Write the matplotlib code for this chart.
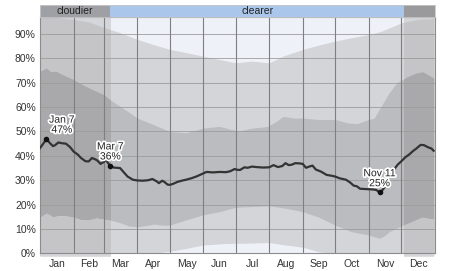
import matplotlib
matplotlib.use("Agg")
import matplotlib.pyplot as plt
import matplotlib.patheffects as pe
from matplotlib.patches import Rectangle

plt.rcParams['font.family'] = ['Liberation Sans', 'DejaVu Sans']

# ---- data (day of year, 0 = Jan 1) ----
months = ["Jan", "Feb", "Mar", "Apr", "May", "Jun", "Jul", "Aug", "Sep", "Oct", "Nov", "Dec"]
month_starts = [0, 31, 59, 90, 120, 151, 181, 212, 243, 273, 304, 334, 365]
yticks = [0, 10, 20, 30, 40, 50, 60, 70, 80, 90]

median_days = [0, 3, 6, 9, 12, 14, 17, 20, 24, 28, 31, 35, 38, 42, 45, 48, 51, 53, 56, 59,
               61, 63, 65, 68, 74, 78, 81, 86, 90, 95, 100, 104, 108, 110, 113, 115, 118, 120,
               123, 127, 131, 135, 140, 145, 150, 154, 160, 166, 172, 176, 180, 182, 185, 189,
               192, 196, 200, 206, 212, 216, 220, 224, 227, 230, 233, 236, 240, 243, 246, 249,
               252, 255, 260, 265, 270, 273, 277, 283, 287, 290, 293, 296, 300, 304, 308, 311,
               314, 316, 318, 320, 323, 326, 328, 331, 334, 338, 341, 345, 348, 352, 355, 359,
               362, 364]
median_vals = [43.2, 45.0, 47.0, 45.3, 44.0, 44.4, 45.5, 45.2, 45.0, 43.5, 41.8, 40.5, 39.1,
               37.8, 37.7, 39.1, 38.6, 38.1, 36.7, 37.5, 38.4, 37.0, 36.0, 35.2, 35.0, 33.0,
               31.5, 30.2, 29.9, 29.8, 30.0, 30.5, 29.5, 28.8, 29.8, 29.3, 28.2, 28.1, 28.5,
               29.3, 29.8, 30.2, 30.8, 31.6, 32.6, 33.4, 33.2, 33.4, 33.3, 33.7, 34.6, 34.3,
               34.2, 35.3, 35.1, 35.6, 35.4, 35.2, 35.3, 36.2, 35.4, 35.8, 37.0, 36.2, 36.4,
               37.0, 36.9, 36.7, 35.1, 35.6, 36.0, 34.4, 33.5, 32.2, 31.8, 31.5, 30.8, 30.2,
               29.0, 27.8, 27.5, 26.5, 26.4, 26.3, 26.2, 26.0, 25.0, 25.6, 26.7, 28.5, 31.5,
               33.5, 34.8, 36.5, 37.7, 39.5, 40.4, 42.0, 43.0, 44.5, 44.4, 43.5, 43.0, 42.1]

p90_days = [0, 15, 31, 45, 59, 74, 90, 105, 120, 135, 151, 170, 181, 196, 212, 225, 243, 258,
            273, 288, 304, 316, 334, 349, 364]
p90_vals = [97.0, 96.8, 96.0, 95.0, 92.7, 90.6, 87.8, 85.7, 83.7, 82.4, 80.9, 79.2, 78.2,
            78.9, 78.2, 81.0, 83.7, 85.5, 87.1, 88.5, 89.8, 91.2, 94.6, 96.0, 96.3]

p75_days = [0, 6, 10, 15, 20, 31, 38, 45, 52, 59, 65, 74, 82, 90, 105, 120, 135, 151, 166,
            178, 184, 196, 210, 218, 225, 235, 243, 258, 273, 285, 293, 304, 309, 315, 323,
            330, 340, 348, 354, 364]
p75_vals = [74.7, 76.0, 74.5, 74.7, 73.5, 71.3, 69.5, 67.9, 66.5, 65.1, 63.0, 60.3, 58.0,
            55.5, 52.8, 50.0, 49.5, 51.4, 52.1, 50.7, 50.2, 51.4, 52.0, 54.0, 56.2, 55.5,
            55.5, 54.9, 54.9, 53.5, 53.2, 54.9, 55.5, 60.0, 66.0, 70.0, 72.5, 74.0, 74.5, 72.0]

p25_days = [0, 6, 12, 18, 25, 31, 38, 45, 52, 59, 66, 74, 82, 90, 100, 105, 115, 120, 135,
            151, 166, 181, 196, 212, 227, 243, 258, 273, 288, 304, 314, 318, 323, 334, 344,
            353, 364]
p25_vals = [14.8, 16.5, 15.0, 15.5, 15.3, 14.8, 13.8, 13.7, 14.5, 14.0, 13.5, 12.6, 11.2,
            10.9, 11.5, 12.0, 11.5, 11.6, 13.7, 15.8, 17.1, 18.9, 19.2, 19.5, 18.5, 17.1,
            14.8, 11.6, 8.9, 7.5, 6.2, 7.0, 8.9, 11.2, 13.0, 14.8, 14.0]

p10_days = [0, 100, 110, 120, 135, 151, 170, 181, 196, 212, 227, 243, 258, 270, 364]
p10_vals = [0.0, 0.0, 0.3, 0.8, 2.0, 3.4, 4.0, 4.1, 4.2, 4.4, 3.4, 2.5, 0.6, 0.0, 0.0]

annotations = [(6, 47, "Jan 7\n47%"), (65, 36, "Mar 7\n36%"), (314, 25, "Nov 11\n25%")]
cloudy_spans = [(0, 65), (337, 365)]
clear_span = (65, 337)

# ---- figure ----
W, H = 474, 271
fig = plt.figure(figsize=(W / 100, H / 100), dpi=100)
fig.patch.set_facecolor("white")

ax_l, ax_r, ax_t, ax_b = 40, 434.7, 17, 253.3
ax = fig.add_axes([ax_l / W, 1 - ax_b / H, (ax_r - ax_l) / W, (ax_b - ax_t) / H])
ax.set_xlim(0, 365)
ax.set_ylim(0, 97)
ax.set_facecolor("#eef2f8")


def draw_fills(target, colors, clip=None):
    bg, outer, inner = colors
    arts = []
    arts.append(target.fill_between([0, 365], 0, 100, color=bg, lw=0, zorder=1))
    arts.append(target.fill_between(p90_days, 0, p90_vals, color=outer, lw=0, zorder=1.1))
    arts.append(target.fill_between(p75_days, -1, p75_vals, color=inner, lw=0, zorder=1.3))
    arts.append(target.fill_between(p25_days, -1, p25_vals, color=outer, lw=0, zorder=1.4))
    arts.append(target.fill_between(p10_days, -1, p10_vals, color=bg, lw=0, zorder=1.5))
    if clip is not None:
        for a in arts:
            a.set_clip_path(clip)
    return arts


draw_fills(ax, ("#eef2f8", "#d4d5d9", "#bbbcc0"))
for (a, b) in cloudy_spans:
    rect = Rectangle((a, -5), b - a, 110, transform=ax.transData)
    draw_fills(ax, ("#d4d6da", "#c5c5c7", "#a9a9ab"), clip=rect)

# grid
for y in yticks[1:]:
    ax.axhline(y, color="#9c9c9c", lw=0.6, zorder=2)
for d in month_starts[1:-1]:
    ax.axvline(d, color="#7f7f7f", lw=0.8, zorder=2)

ax.plot(median_days, median_vals, color="#333333", lw=1.6, zorder=3, solid_joinstyle="round")

halo = [pe.withStroke(linewidth=2.5, foreground="white")]
for d, v, txt in annotations:
    ax.plot([d], [v], marker="o", ms=3, color="#111111", zorder=4)
    xoff = 11 if d < 20 else 0
    ax.annotate(txt, (d, v), xytext=(xoff, 3), textcoords="offset points",
                ha="center", va="bottom", fontsize=7.5, color="#222222",
                linespacing=1.0, path_effects=halo, zorder=5)

ax.set_yticks(yticks)
ax.set_yticklabels([f"{y}%" for y in yticks])
ax.set_xticks([(month_starts[i] + month_starts[i + 1]) / 2 for i in range(12)])
ax.set_xticklabels(months)
ax.tick_params(length=0, labelsize=7.5, labelcolor="#333333")
ax.tick_params(axis="y", pad=3)
ax.tick_params(axis="x", pad=4)
for s in ax.spines.values():
    s.set_color("#8c8c8c")
    s.set_linewidth(0.8)

# header band
band_t, band_b = 5, 16.7
axb = fig.add_axes([ax_l / W, 1 - band_b / H, (ax_r - ax_l) / W, (band_b - band_t) / H])
axb.set_xlim(0, 365)
axb.set_ylim(0, 1)
axb.axvspan(cloudy_spans[0][0], cloudy_spans[0][1], color="#9ea0a5", lw=0)
axb.axvspan(clear_span[0], clear_span[1], color="#aac6ea", lw=0)
axb.axvspan(cloudy_spans[1][0], cloudy_spans[1][1], color="#9a9a9c", lw=0)
axb.text(sum(cloudy_spans[0]) / 2, 0.45, "cloudier", ha="center", va="center",
         fontsize=7.5, color="#222222")
axb.text(sum(clear_span) / 2, 0.45, "clearer", ha="center", va="center",
         fontsize=7.5, color="#222222")
axb.set_xticks([])
axb.set_yticks([])
for s in axb.spines.values():
    s.set_color("#c8c8c8")
    s.set_linewidth(0.6)

fig.savefig("out.png", dpi=100)
